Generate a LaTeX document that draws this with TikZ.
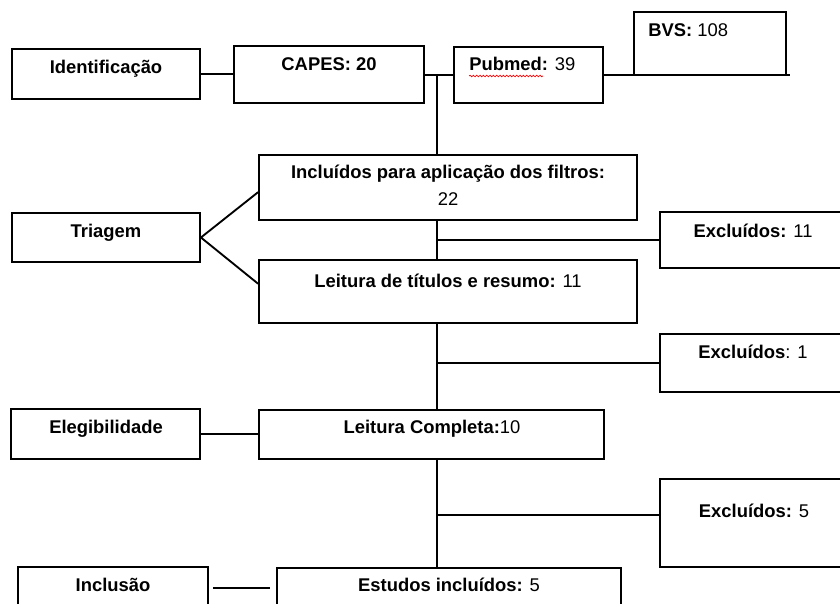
\documentclass[tikz,border=0pt]{standalone}
\usepackage{fontspec}
\setmainfont{Liberation Sans}
\usetikzlibrary{fit,calc,decorations.pathmorphing}
\tikzset{
  box/.style = {draw, line width=1.4pt, inner sep=0pt, fit={#1}},
  lbl/.style = {anchor=base, inner sep=0pt, font=\fontsize{13.8}{16}\selectfont},
  link/.style = {line width=1.4pt}
}

\begin{document}
\begin{tikzpicture}[x=0.75pt,y=-0.75pt]

	\useasboundingbox (0,0) rectangle (840,604);
	\clip (0,0) rectangle (840,604);
	\fill[white] (0,0) rectangle (840,604);

	%left column
	\node[box={(12,49) (200,99)}] (ident) {};
	\node[box={(12,213) (200,262)}] (triagem) {};
	\node[box={(11,409) (200,459)}] (eleg) {};
	\node[box={(18,567) (208,609)}] (inclusao) {}; %cut by the bottom edge
	\node[lbl] (ident-t) at (106,73) {\bfseries Identificação};
	\node[lbl] (triagem-t) at (106,237) {\bfseries Triagem};
	\node[lbl] (eleg-t) at (106,433) {\bfseries Elegibilidade};
	\node[lbl] (inclusao-t) at (113,591) {\bfseries Inclusão};

	%databases
	\node[box={(234,46) (424,103)}] (capes) {};
	\node[box={(454,47) (603,103)}] (pubmed) {};
	\node[box={(634,12) (786,75)}] (bvs) {};
	\node[lbl] (capes-t) at (329,70) {\textbf{CAPES: 20}};
	\node[lbl,anchor=base west] (pubmed-t) at (469,70) {\textbf{Pubmed:} 39};
	\node[lbl,anchor=base west] (bvs-t) at (648,36) {\textbf{BVS:} 108};

	%middle column
	\node[box={(259,155) (637,220)}] (incl) {};
	\node[box={(259,260) (637,323)}] (leit) {};
	\node[box={(259,410) (604,459)}] (lc) {};
	\node[box={(277,568) (621,609)}] (estudos) {}; %cut by the bottom edge
	\node[lbl] (incl-t1) at (448,178) {\bfseries Incluídos para aplicação dos filtros:};
	\node[lbl] (incl-t2) at (448,205) {22};
	\node[lbl] (leit-t) at (448,287) {\textbf{Leitura de títulos e resumo:} 11};
	\node[lbl] (lc-t) at (432,433) {\textbf{Leitura Completa:}10};
	\node[lbl] (estudos-t) at (449,591) {\textbf{Estudos incluídos:} 5};

	%right column, cut by the right edge
	\node[box={(660,212) (848,268)}] (exc1) {};
	\node[box={(660,334) (848,392)}] (exc2) {};
	\node[box={(660,479) (848,567)}] (exc3) {};
	\node[lbl] (exc1-t) at (753,237) {\textbf{Excluídos:} 11};
	\node[lbl] (exc2-t) at (753,358) {\textbf{Excluídos}: 1};
	\node[lbl] (exc3-t) at (754,517) {\textbf{Excluídos:} 5};

	%spell check underline of Pubmed
	\draw[red, line width=0.5pt, decorate, decoration={snake, amplitude=0.6pt, segment length=2.5pt}]
		($(pubmed-t.base west)+(0,6)$) -- ++(74,0);

	\coordinate (jn) at (437,75);    %junction between CAPES and Pubmed
	\coordinate (bvsend) at (790,75); %end of line under BVS
	\coordinate (exc3in) at ($(exc3.north west)!.41!(exc3.south west)$);

	%top row
	\draw[link] (ident.east) -- (ident.east -| capes.west);
	\draw[link] (capes.east |- jn) -- (jn -| pubmed.west);
	\draw[link] (pubmed.east |- bvsend) -- (bvsend);
	%trunk going down
	\draw[link] (jn) -- (jn |- incl.north);
	\draw[link] (jn |- incl.south) -- (jn |- leit.north);
	\draw[link] (jn |- leit.south) -- (jn |- lc.north);
	\draw[link] (jn |- lc.south) -- (jn |- estudos.north);
	%branches to the excluded boxes
	\draw[link] (jn |- exc1.west) -- (exc1.west);
	\draw[link] (jn |- exc2.west) -- (exc2.west);
	\draw[link] (jn |- exc3in) -- (exc3in);
	%fork of Triagem
	\draw[link] ($(incl.north west)!.57!(incl.south west)$) -- (triagem.east)
		-- ($(leit.north west)!.38!(leit.south west)$);
	%stage labels to their boxes
	\draw[link] (eleg.east) -- (eleg.east -| lc.west);
	\draw[link, shorten <=3pt, shorten >=4.5pt] (inclusao.east) -- (inclusao.east -| estudos.west);

\end{tikzpicture}
\end{document}
